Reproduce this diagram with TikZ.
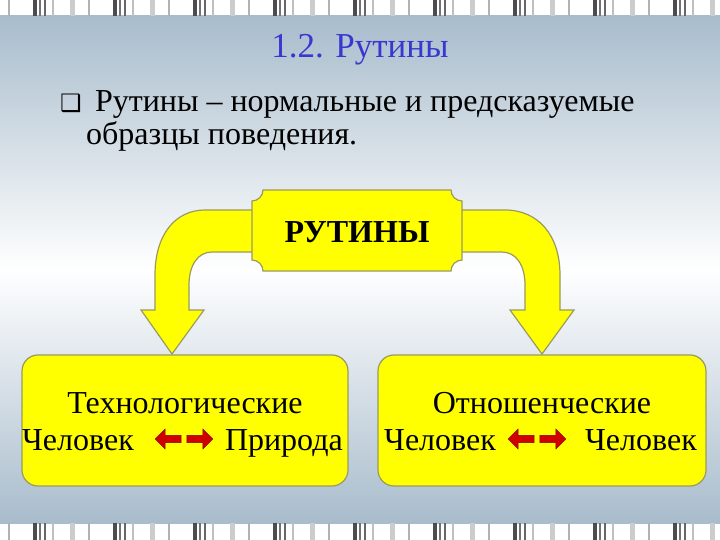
\documentclass[tikz,border=0pt]{standalone}
\usepackage{fontspec}
\setmainfont{Liberation Serif}
\newfontfamily\symf{DejaVu Sans}
\usetikzlibrary{shapes.arrows}
\definecolor{bgblue}{HTML}{A8BCCC}
\definecolor{yel}{HTML}{FFFF00}
\definecolor{edge}{HTML}{9A9A60}
\definecolor{ttl}{HTML}{3838D0}
\definecolor{arr}{HTML}{D00000}
\tikzset{
  yshape/.style={fill=yel,draw=edge,line width=1.2pt},
  txt/.style={font=\fontsize{32}{35}\selectfont,inner sep=0pt},
  redarr/.style={single arrow,fill=arr,draw=arr!60!black,minimum height=26pt,minimum width=20pt,single arrow head extend=3pt,inner sep=1.5pt}
}
\begin{document}
\begin{tikzpicture}[x=1pt,y=-1pt]
\useasboundingbox (0,0) rectangle (720,540);
\fill[white] (0,0) rectangle (720,540);
\shade[top color=bgblue,bottom color=white] (0,16) rectangle (720,270);
\shade[top color=white,bottom color=bgblue] (0,269.5) rectangle (720,523);
% stripes
\foreach \yy/\hh in {0/16,523/17}{
  \foreach \o in {0,80,160,240,320,400,480,560,640}{
    \fill[gray!60] (\o+8,\yy) rectangle (\o+10,\yy+\hh);
    \fill[black!70] (\o+33,\yy) rectangle (\o+37,\yy+\hh);
    \fill[black!55] (\o+39,\yy) rectangle (\o+41,\yy+\hh);
    \fill[black!60] (\o+44,\yy) rectangle (\o+46,\yy+\hh);
    \fill[gray!50] (\o+52,\yy) rectangle (\o+54,\yy+\hh);
    \fill[gray!40] (\o+70,\yy) rectangle (\o+75,\yy+\hh);
  }
}
% title and text
\node[txt,font=\fontsize{35}{38}\selectfont,text=ttl,anchor=base] (title) at (360,58) {1.2. Рутины};
\node[txt,anchor=base west] (l1) at (60,112) {{\symf\fontsize{24}{26}\selectfont ❑}\, Рутины – нормальные и предсказуемые};
\node[txt,anchor=base west] (l2) at (86,145) {образцы поведения.};
% arrows
\draw[yshape] (258,210) -- (205,210) .. controls (175,210) and (155,235) .. (155,275) -- (155,310) -- (141,310) -- (172,354) -- (204,310) -- (189,310) -- (189,285) .. controls (189,265) and (198,252) .. (212,252) -- (258,252) -- cycle;
\draw[yshape] (456,210) -- (505,210) .. controls (538,210) and (560,235) .. (560,275) -- (560,310) -- (574,310) -- (542,354) -- (510,310) -- (525,310) -- (525,285) .. controls (525,265) and (516,252) .. (502,252) -- (456,252) -- cycle;
% central box
\draw[yshape] (263,190) -- (451,190) .. controls (451,196) and (456,201) .. (462,201) -- (462,260) .. controls (456,260) and (451,265) .. (451,271) -- (263,271) .. controls (263,265) and (258,260) .. (252,260) -- (252,201) .. controls (258,201) and (263,196) .. (263,190) -- cycle;
\node[txt,font=\bfseries\fontsize{32}{35}\selectfont] (rut) at (357,232) {РУТИНЫ};
% bottom boxes
\draw[yshape,rounded corners=16pt] (22,355) rectangle (348,486);
\draw[yshape,rounded corners=16pt] (378,355) rectangle (706,486);
\node[txt,anchor=base] (t1) at (185,413) {Технологические};
\node[txt,anchor=base west] (c1) at (22,450) {Человек};
\node[txt,anchor=base east] (p1) at (343,450) {Природа};
\node[redarr,shape border rotate=180] (a1) at (170,439) {};
\node[redarr] (a2) at (198,439) {};
\node[txt,anchor=base] (t2) at (542,413) {Отношенческие};
\node[txt,anchor=base west] (c2) at (384,450) {Человек};
\node[txt,anchor=base east] (c3) at (697,450) {Человек};
\node[redarr,shape border rotate=180] (a3) at (523,439) {};
\node[redarr] (a4) at (551,439) {};
\end{tikzpicture}
\end{document}
